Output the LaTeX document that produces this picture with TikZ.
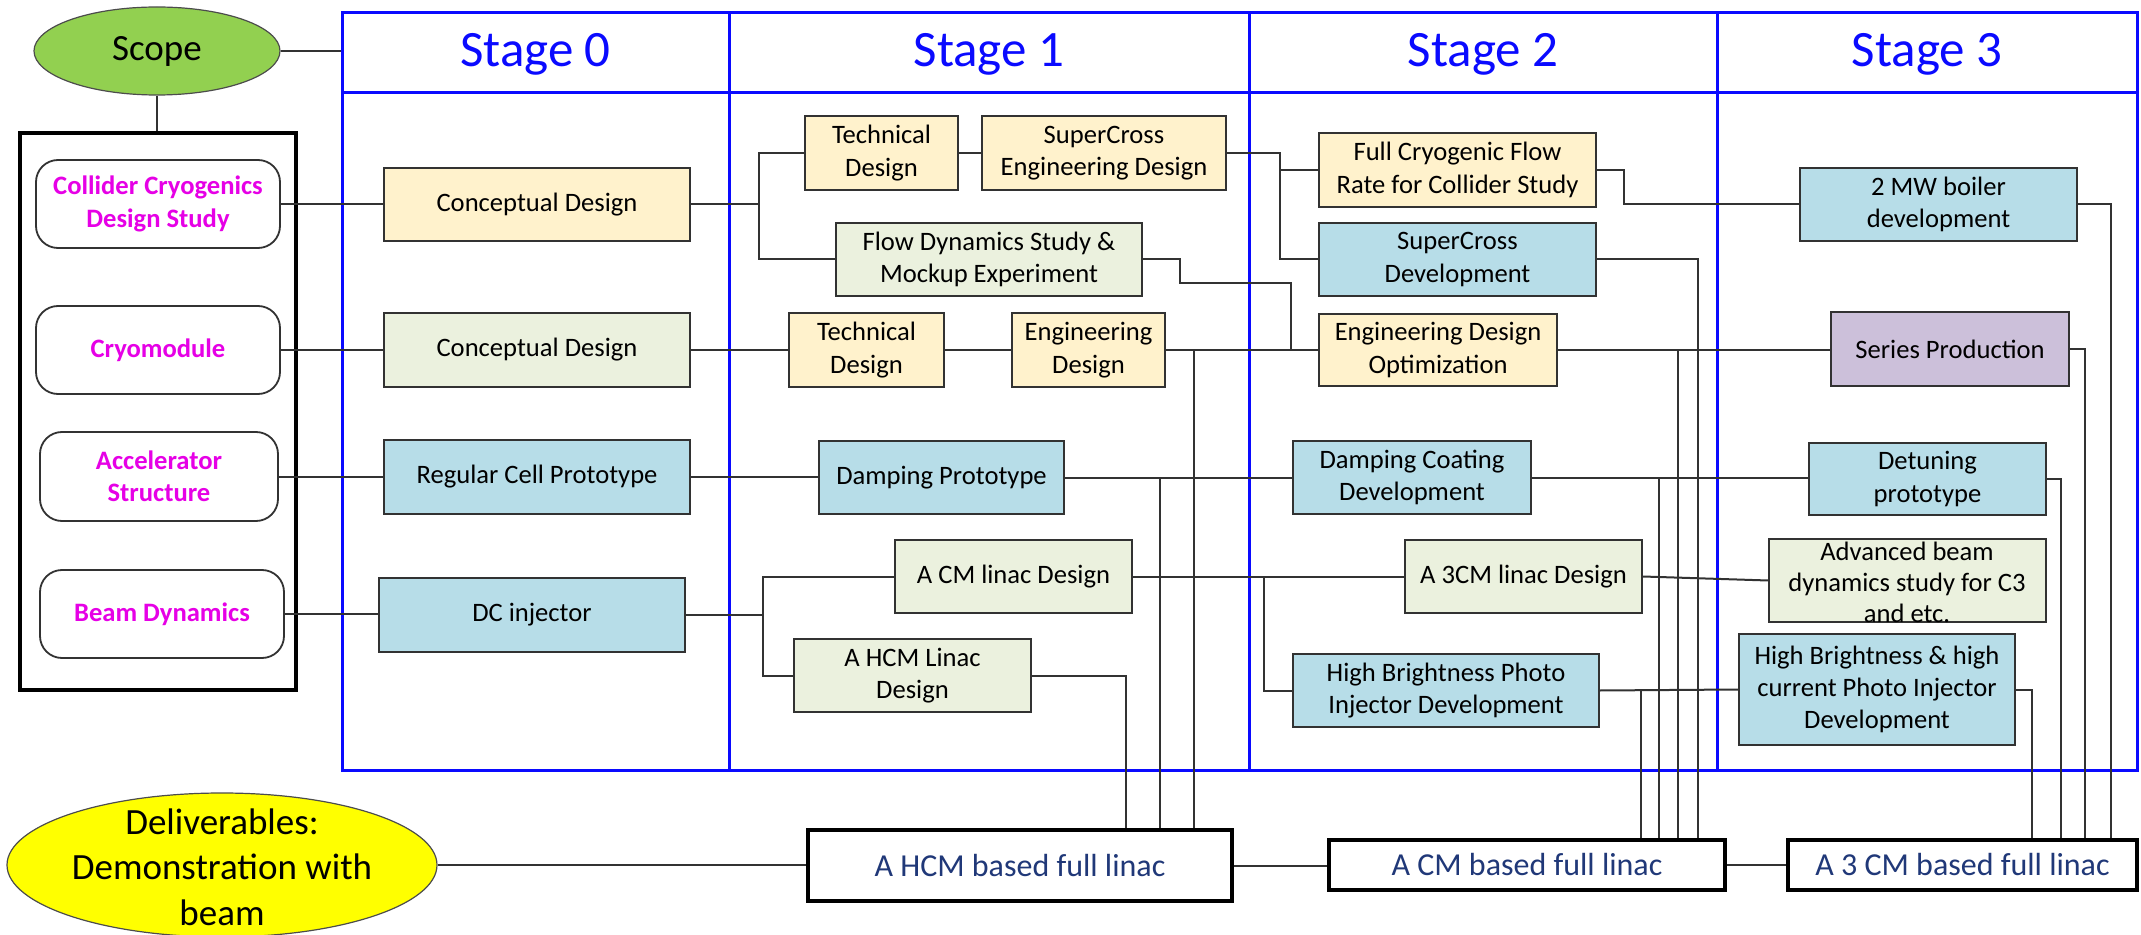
\documentclass[tikz,border=0pt]{standalone}
\usepackage{fontspec}
\setmainfont{Carlito}
\usetikzlibrary{shapes.geometric}
\definecolor{byel}{RGB}{255,242,204}
\definecolor{bgrn}{RGB}{235,241,222}
\definecolor{bblu}{RGB}{183,221,232}
\definecolor{bpur}{RGB}{204,192,218}
\definecolor{scopegreen}{RGB}{146,208,80}
\definecolor{delyellow}{RGB}{255,255,0}
\definecolor{stageblue}{RGB}{10,10,255}
\definecolor{itempink}{RGB}{230,0,230}
\definecolor{navytext}{RGB}{32,56,120}
\definecolor{linegray}{RGB}{50,50,50}
\newcommand\bodyfont{\fontsize{13.3}{16.2}\selectfont}
\newcommand\bx[7]{\node[#1, minimum width={(#5-#3)*0.5pt}, minimum height={(#6-#4)*0.5pt}] (#2) at ({(#3+#5)/2},{(#4+#6)/2}) {#7};}
\begin{document}
\begin{tikzpicture}[x=0.5pt, y=-0.5pt,
  task/.style={rectangle, draw=linegray, line width=0.9pt, inner sep=1pt, align=center, font=\bodyfont, text=black},
  yb/.style={task, fill=byel},
  gb/.style={task, fill=bgrn},
  bb/.style={task, fill=bblu},
  pb/.style={task, fill=bpur},
  scopeitem/.style={rectangle, rounded corners=11pt, draw=linegray, line width=0.9pt, fill=white, align=center, font=\bodyfont\bfseries, text=itempink, inner sep=1pt},
  deliverbox/.style={rectangle, draw=black, line width=1.6pt, fill=white, inner sep=1pt, font=\fontsize{16}{19}\selectfont, text=navytext},
  stagehead/.style={rectangle, draw=stageblue, line width=1.5pt, inner sep=0pt, text height=16pt, text depth=2pt, font=\fontsize{25.5}{30}\selectfont, text=stageblue},
  stagebody/.style={rectangle, draw=stageblue, line width=1.5pt, inner sep=0pt},
  lframe/.style={rectangle, draw=black, line width=1.8pt, inner sep=0pt},
  conn/.style={draw=linegray, line width=1pt},
  oval/.style={ellipse, draw=black!70, line width=0.6pt, inner sep=0pt},
  plain/.style={inner sep=0pt, align=center}
]
\useasboundingbox (0,0) rectangle (2141,935);

% stage frame
\bx{stagebody}{c0}{342}{93}{729}{770}{}
\bx{stagebody}{c1}{729}{93}{1249}{770}{}
\bx{stagebody}{c2}{1249}{93}{1717}{770}{}
\bx{stagebody}{c3}{1717}{93}{2137}{770}{}
\bx{stagehead}{s0}{342}{13}{729}{93}{Stage 0}
\bx{stagehead}{s1}{729}{13}{1249}{93}{Stage 1}
\bx{stagehead}{s2}{1249}{13}{1717}{93}{Stage 2}
\bx{stagehead}{s3}{1717}{13}{2137}{93}{Stage 3}

% scope column
\bx{lframe}{lf}{20}{133}{296}{690}{}
\node[oval, fill=scopegreen, minimum width=123pt, minimum height=44pt, font=\fontsize{18.5}{21}\selectfont] (scope) at (157,51) {Scope};
\bx{scopeitem}{ccd}{36}{160}{280}{248}{Collider Cryogenics\\Design Study}
\bx{scopeitem}{cryo}{36}{306}{280}{394}{Cryomodule}
\bx{scopeitem}{acc}{40}{432}{278}{521}{Accelerator\\Structure}
\bx{scopeitem}{beam}{40}{570}{284}{658}{Beam Dynamics}

% deliverables
\node[oval, fill=delyellow, minimum width=215pt, minimum height=72pt] (deliv) at (222,865) {};
\node[plain, font=\fontsize{18.5}{22.7}\selectfont] (delivtext) at (222,867) {Deliverables:\\Demonstration with\\beam};

% stage 0
\bx{yb}{cd1}{384}{168}{690}{241}{Conceptual Design}
\bx{gb}{cd2}{384}{313}{690}{387}{Conceptual Design}
\bx{bb}{rcp}{384}{440}{690}{514}{Regular Cell Prototype}
\bx{bb}{dci}{379}{578}{685}{652}{DC injector}

% stage 1
\bx{yb}{td1}{805}{116}{958}{190}{Technical\\Design}
\bx{yb}{sced}{982}{116}{1226}{190}{SuperCross\\Engineering Design}
\bx{gb}{fds}{836}{223}{1142}{296}{Flow Dynamics Study \&\\Mockup Experiment}
\bx{yb}{td2}{789}{313}{944}{387}{Technical\\Design}
\bx{yb}{ed}{1012}{313}{1165}{387}{Engineering\\Design}
\bx{bb}{dp}{819}{441}{1064}{514}{Damping Prototype}
\bx{gb}{acm}{895}{540}{1132}{613}{A CM linac Design}
\bx{gb}{ahcm}{794}{639}{1031}{712}{A HCM Linac\\Design}

% stage 2
\bx{yb}{fcf}{1319}{133}{1596}{207}{Full Cryogenic Flow\\Rate for Collider Study}
\bx{bb}{scd}{1319}{223}{1596}{296}{SuperCross\\Development}
\bx{yb}{edo}{1319}{314}{1557}{386}{Engineering Design\\Optimization}
\bx{bb}{dcd}{1293}{441}{1531}{514}{Damping Coating\\Development}
\bx{gb}{a3cm}{1405}{540}{1642}{613}{A 3CM linac Design}
\bx{bb}{hbp}{1293}{654}{1599}{727}{High Brightness Photo\\Injector Development}

% stage 3
\bx{bb}{mwb}{1800}{168}{2077}{241}{2 MW boiler\\development}
\bx{pb}{sp}{1831}{312}{2069}{386}{Series Production}
\bx{bb}{det}{1809}{443}{2046}{515}{Detuning\\prototype}
\bx{gb}{adv}{1769}{539}{2046}{622}{}
\node[plain, font=\fontsize{13.3}{15.5}\selectfont] (advtext) at (1907,582) {Advanced beam\\dynamics study for C3\\and etc.};
\bx{bb}{hbh}{1739}{634}{2015}{745}{High Brightness \& high\\current Photo Injector\\Development}

% deliverable boxes
\bx{deliverbox}{hcmb}{808}{830}{1232}{901}{A HCM based full linac}
\bx{deliverbox}{cmb}{1329}{840}{1725}{890}{A CM based full linac}
\bx{deliverbox}{c3b}{1788}{840}{2137}{890}{A 3 CM based full linac}

% bus coordinates
\coordinate (b1) at (759,0);
\coordinate (b2) at (1280,0);
\coordinate (b3) at (1624,0);
\coordinate (b4) at (763,0);
\coordinate (b5) at (1264,0);
\coordinate (j1) at (1180,283);
\coordinate (j2) at (1291,283);
\coordinate (d11) at (1126,0);
\coordinate (d12) at (1160,0);
\coordinate (d13) at (1194,0);
\coordinate (d21) at (1641,0);
\coordinate (d22) at (1659,0);
\coordinate (d23) at (1678,0);
\coordinate (d24) at (1698,0);
\coordinate (d31) at (2111,0);
\coordinate (d32) at (2085,0);
\coordinate (d33) at (2061,0);
\coordinate (d34) at (2032,0);

% connectors
\draw[conn] (scope.east) -- (scope.east -| s0.west);
\draw[conn] (scope.south) -- (scope.south |- lf.north);
\draw[conn] (ccd.east) -- (ccd.east -| cd1.west);
\draw[conn] (cryo.east) -- (cryo.east -| cd2.west);
\draw[conn] (acc.east) -- (acc.east -| rcp.west);
\draw[conn] (beam.east) -- (beam.east -| dci.west);

% row 1
\draw[conn] (cd1.east) -- (cd1.east -| b1);
\draw[conn] (td1.west) -- (td1.west -| b1) -- (fds.west -| b1) -- (fds.west);
\draw[conn] (td1.east) -- (td1.east -| sced.west);
\draw[conn] (sced.east) -- (sced.east -| b2) -- (scd.west -| b2) -- (scd.west);
\draw[conn] (fcf.west) -- (fcf.west -| b2);
\draw[conn] (fcf.east) -- (fcf.east -| b3) -- (b3 |- mwb.west) -- (mwb.west);
\draw[conn] (mwb.east) -- (mwb.east -| d31) -- (d31 |- c3b.north);
\draw[conn] (scd.east) -- (scd.east -| d24) -- (d24 |- cmb.north);
\draw[conn] (fds.east) -- (fds.east -| j1) -- (j1) -- (j2) -- (j2 |- edo.west);

% row 2
\draw[conn] (cd2.east) -- (cd2.east -| td2.west);
\draw[conn] (td2.east) -- (td2.east -| ed.west);
\draw[conn] (ed.east) -- (ed.east -| edo.west);
\draw[conn] (ed.east -| d13) -- (d13 |- hcmb.north);
\draw[conn] (edo.east) -- (edo.east -| sp.west);
\draw[conn] (edo.east -| d23) -- (d23 |- cmb.north);
\draw[conn] (sp.east) -- (sp.east -| d32) -- (d32 |- c3b.north);

% row 3
\draw[conn] (rcp.east) -- (rcp.east -| dp.west);
\draw[conn] (dp.east) -- (dp.east -| dcd.west);
\draw[conn] (dp.east -| d12) -- (d12 |- hcmb.north);
\draw[conn] (dcd.east) -- (dcd.east -| det.west);
\draw[conn] (dcd.east -| d22) -- (d22 |- cmb.north);
\draw[conn] (det.east) -- (det.east -| d33) -- (d33 |- c3b.north);

% row 4
\draw[conn] (dci.east) -- (dci.east -| b4);
\draw[conn] (acm.west) -- (acm.west -| b4) -- (ahcm.west -| b4) -- (ahcm.west);
\draw[conn] (acm.east) -- (acm.east -| a3cm.west);
\draw[conn] (acm.east -| b5) -- (hbp.west -| b5) -- (hbp.west);
\draw[conn] (ahcm.east) -- (ahcm.east -| d11) -- (d11 |- hcmb.north);
\draw[conn] (a3cm.east) -- (adv.west);
\draw[conn] (hbp.east) -- (hbh.west);
\draw[conn] (hbp.east -| d21) -- (d21 |- cmb.north);
\draw[conn] (hbh.east) -- (hbh.east -| d34) -- (d34 |- c3b.north);

% deliverables chain
\draw[conn] (deliv.east) -- (deliv.east -| hcmb.west);
\draw[conn] (hcmb.east) -- (hcmb.east -| cmb.west);
\draw[conn] (cmb.east) -- (cmb.east -| c3b.west);
\end{tikzpicture}
\end{document}
